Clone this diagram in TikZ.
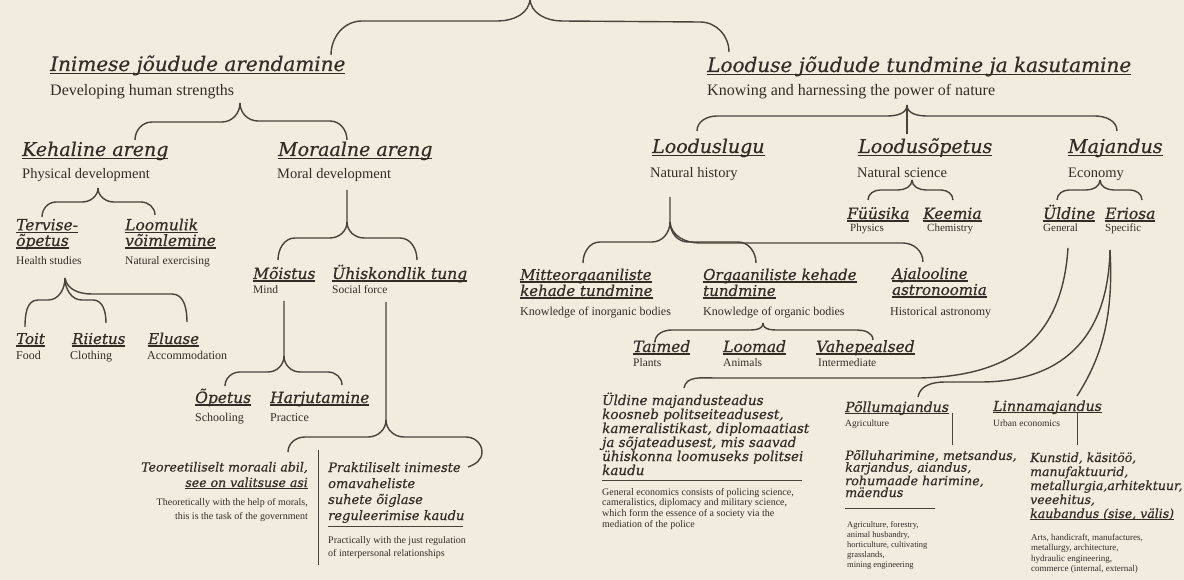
\documentclass[tikz,border=0pt]{standalone}
\usepackage{fontspec}
\setmainfont{Liberation Serif}
\newfontfamily\hdfont{DejaVu Serif}[ItalicFeatures={FakeBold=0.5}]
\usepackage{xcolor}
\usepackage{tikz}
\definecolor{paper}{HTML}{F2ECDF}
\definecolor{ink}{HTML}{332D28}
\definecolor{pen}{HTML}{4A423B}
\newcommand\uln[1]{\setbox0\hbox{#1}\rlap{\rule[-0.17em]{\wd0}{0.075em}}\box0}

\begin{document}
\begin{tikzpicture}[x=1pt,y=1pt,
	hd/.style 2 args={font=\hdfont\itshape\fontsize{#1}{#2}\selectfont},
	tr/.style 2 args={font=\fontsize{#1}{#2}\selectfont},
	every node/.style={inner sep=0pt,anchor=base west,text=ink,align=left},
	br/.style={draw=pen,line width=1.4pt},
	rl/.style={draw=pen,line width=1pt}]
	% 背景
	\useasboundingbox (0,0) rectangle (1184,-580);
	\fill[paper] (0,0) rectangle (1184,-580);
	% 第一层
	\node[hd={20}{22}] (inim) at (50,-71) {\uln{Inimese jõudude arendamine}};
	\node[tr={16}{18}] (inimE) at (50,-96) {Developing human strengths};
	\node[hd={20}{22}] (lood) at (707,-72) {\uln{Looduse jõudude tundmine ja kasutamine}};
	\node[tr={16}{18}] (loodE) at (707,-96) {Knowing and harnessing the power of nature};
	% 第二层
	\node[hd={19}{21}] (keh) at (22,-156) {\uln{Kehaline areng}};
	\node[tr={14.5}{16}] (kehE) at (22,-179) {Physical development};
	\node[hd={19}{21}] (mor) at (278,-156) {\uln{Moraalne areng}};
	\node[tr={14.5}{16}] (morE) at (277,-179) {Moral development};
	\node[hd={19}{21}] (lugu) at (652,-153) {\uln{Looduslugu}};
	\node[tr={14.5}{16}] (luguE) at (650,-178) {Natural history};
	\node[hd={19}{21}] (lope) at (858,-153) {\uln{Loodusõpetus}};
	\node[tr={14.5}{16}] (lopeE) at (857,-178) {Natural science};
	\node[hd={19}{21}] (maj) at (1068,-153) {\uln{Majandus}};
	\node[tr={14.5}{16}] (majE) at (1068,-178) {Economy};
	% 第三层 左
	\node[hd={15.5}{14.5}] (terv) at (16,-246) {\uln{Tervise-}\\\uln{õpetus}};
	\node[tr={11.5}{13}] (tervE) at (16,-265) {Health studies};
	\node[hd={15.5}{14.5}] (loom) at (125,-246) {\uln{Loomulik}\\\uln{võimlemine}};
	\node[tr={11.5}{13}] (loomE) at (125,-265) {Natural exercising};
	\node[hd={15}{16}] (toit) at (16,-344) {\uln{Toit}};
	\node[tr={12}{13}] (toitE) at (16,-359) {Food};
	\node[hd={15}{16}] (riie) at (72,-344) {\uln{Riietus}};
	\node[tr={12}{13}] (riieE) at (70,-359) {Clothing};
	\node[hd={15}{16}] (elu) at (148,-344) {\uln{Eluase}};
	\node[tr={12}{13}] (eluE) at (147,-359) {Accommodation};
	\node[hd={15.5}{16}] (mois) at (253,-279) {\uln{Mõistus}};
	\node[tr={11.5}{13}] (moisE) at (253,-294) {Mind};
	\node[hd={15.5}{16}] (yhis) at (332,-279) {\uln{Ühiskondlik tung}};
	\node[tr={11.5}{13}] (yhisE) at (332,-294) {Social force};
	\node[hd={15.5}{16}] (ope) at (195,-403) {\uln{Õpetus}};
	\node[tr={12}{13}] (opeE) at (195,-421) {Schooling};
	\node[hd={15.5}{16}] (harj) at (270,-403) {\uln{Harjutamine}};
	\node[tr={12}{13}] (harjE) at (270,-421) {Practice};
	% 第四层 左
	\node[hd={12.5}{15.5},anchor=base east,align=right] (teor) at (308,-487) {Teoreetiliselt moraali abil,\\\uln{see on valitsuse asi}};
	\node[tr={10}{14}] (teorE) at (308,-519) [anchor=base east,align=right] {Theoretically with the help of morals,\\this is the task of the government};
	\node[hd={13}{16}] (prak) at (328,-520) {Praktiliselt inimeste\\omavaheliste\\suhete õiglase\\reguleerimise kaudu};
	\node[tr={10}{13}] (prakE) at (328,-556) {Practically with the just regulation\\of interpersonal relationships};
	% 第三层 右
	\node[hd={15}{16}] (mitt) at (520,-296) {\uln{Mitteorgaaniliste}\\\uln{kehade tundmine}};
	\node[tr={12}{13}] (mittE) at (520,-316) {Knowledge of inorganic bodies};
	\node[hd={15}{16}] (org) at (703,-296) {\uln{Orgaaniliste kehade}\\\uln{tundmine}};
	\node[tr={12}{13}] (orgE) at (703,-316) {Knowledge of organic bodies};
	\node[hd={15}{16}] (aja) at (892,-295) {\uln{Ajalooline}\\\uln{astronoomia}};
	\node[tr={12}{13}] (ajaE) at (890,-316) {Historical astronomy};
	\node[hd={15.5}{16}] (fyys) at (847,-219) {\uln{Füüsika}};
	\node[tr={11}{12}] (fyysE) at (850,-232) {Physics};
	\node[hd={15.5}{16}] (keem) at (923,-219) {\uln{Keemia}};
	\node[tr={11}{12}] (keemE) at (927,-232) {Chemistry};
	\node[hd={15.5}{16}] (yld) at (1043,-219) {\uln{Üldine}};
	\node[tr={11}{12}] (yldE) at (1043,-232) {General};
	\node[hd={15.5}{16}] (eri) at (1105,-219) {\uln{Eriosa}};
	\node[tr={11}{12}] (eriE) at (1105,-232) {Specific};
	\node[hd={15.5}{16}] (taim) at (633,-352) {\uln{Taimed}};
	\node[tr={11.5}{12}] (taimE) at (633,-366) {Plants};
	\node[hd={15.5}{16}] (loomad) at (723,-352) {\uln{Loomad}};
	\node[tr={11.5}{12}] (loomadE) at (723,-366) {Animals};
	\node[hd={15.5}{16}] (vahe) at (816,-352) {\uln{Vahepealsed}};
	\node[tr={11.5}{12}] (vaheE) at (818,-366) {Intermediate};
	% 第四层 右
	\node[hd={13.5}{14}] (ymaj) at (602,-475) {Üldine majandusteadus\\koosneb politseiteadusest,\\kameralistikast, diplomaatiast\\ja sõjateadusest, mis saavad\\ühiskonna loomuseks politsei\\kaudu};
	\node[tr={10}{10.6}] (ymajE) at (602,-527) {General economics consists of policing science,\\cameralistics, diplomacy and military science,\\which form the essence of a society via the\\mediation of the police};
	\node[hd={14}{15}] (pold) at (845,-412) {\uln{Põllumajandus}};
	\node[tr={9.5}{10}] (poldE) at (845,-426) {Agriculture};
	\node[hd={12.7}{11.8}] (polh) at (845,-497) {Põlluharimine, metsandus,\\karjandus, aiandus,\\rohumaade harimine,\\mäendus};
	\node[tr={8.5}{10}] (polhE) at (847,-567) {Agriculture, forestry,\\animal husbandry,\\horticulture, cultivating\\grasslands,\\mining engineering};
	\node[hd={14}{15}] (linn) at (993,-411) {\uln{Linnamajandus}};
	\node[tr={9.5}{10}] (linnE) at (993,-426) {Urban economics};
	\node[hd={12.5}{14}] (kuns) at (1030,-518) {Kunstid, käsitöö,\\manufaktuurid,\\metallurgia,arhitektuur,\\veeehitus,\\\uln{kaubandus (sise, välis)}};
	\node[tr={9}{10.5}] (kunsE) at (1031,-571.5) {Arts, handicraft, manufactures,\\metallurgy, architecture,\\hydraulic engineering,\\commerce (internal, external)};
	% 括号的端点
	\coordinate (root) at (530,2);
	\coordinate (inimB) at (331,-55);
	\coordinate (loodB) at (729,-52);
	\coordinate (devB) at (240,-103);
	\coordinate (kehB) at (135,-140);
	\coordinate (morB) at (347,-140);
	\coordinate (physB) at (98,-188);
	\coordinate (tervB) at (42,-217);
	\coordinate (loomB) at (155,-215);
	\coordinate (healB) at (65,-278);
	\coordinate (toitB) at (25,-327);
	\coordinate (riieB) at (106,-323);
	\coordinate (eluB) at (187,-322);
	\coordinate (moralB) at (347,-190);
	\coordinate (moisB) at (278,-260);
	\coordinate (yhisB) at (417,-260);
	\coordinate (mindB) at (284,-301);
	\coordinate (opeB) at (225,-386);
	\coordinate (harjB) at (342,-385);
	\coordinate (socB) at (386,-302);
	\coordinate (teorB) at (288,-452);
	\coordinate (prakB) at (468,-467);
	\coordinate (knowB) at (907,-105);
	\coordinate (luguB) at (697,-131);
	\coordinate (lopeB) at (907,-134);
	\coordinate (majB) at (1117,-131);
	\coordinate (histB) at (670,-197);
	\coordinate (mittB) at (583,-263);
	\coordinate (orgB) at (756,-263);
	\coordinate (ajaB) at (923,-262);
	\coordinate (orgKB) at (763,-323);
	\coordinate (taimB) at (655,-342);
	\coordinate (vaheB) at (873,-340);
	\coordinate (sciB) at (912,-180);
	\coordinate (fyysB) at (868,-200);
	\coordinate (keemB) at (953,-200);
	\coordinate (ecoB) at (1100,-180);
	\coordinate (yldB) at (1057,-200);
	\coordinate (eriB) at (1142,-200);
	\coordinate (yldC) at (1068,-248);
	\coordinate (eriC) at (1110,-250);
	\coordinate (ymajB) at (684,-388);
	\coordinate (poldB) at (918,-397);
	\coordinate (linnB) at (1077,-396);
	% 括号
	\draw[br] (inimB) to[out=90,in=180] (362,-21) -- (498,-21) to[out=0,in=-90] (root);
	\draw[br] (root) to[out=-90,in=180] (562,-21) -- (700,-22) to[out=0,in=90] (loodB);
	\draw[br] (kehB) to[out=90,in=180] (152,-122) -- (222,-122) to[out=0,in=-90] (devB);
	\draw[br] (devB) to[out=-90,in=180] (258,-121) -- (330,-121) to[out=0,in=90] (morB);
	\draw[br] (tervB) to[out=90,in=180] (56,-202) -- (82,-202) to[out=0,in=-90] (physB);
	\draw[br] (physB) to[out=-90,in=180] (114,-202) -- (141,-202) to[out=0,in=90] (loomB);
	\draw[br] (toitB) to[out=90,in=180] (38,-300) -- (48,-300) to[out=0,in=-90] (healB);
	\draw[br] (healB) to[out=-90,in=180] (82,-300) -- (93,-300) to[out=0,in=90] (riieB);
	\draw[br] (healB) to[out=-80,in=180] (92,-294) -- (172,-294) to[out=0,in=90] (eluB);
	\draw[br] (moralB) -- (347,-222) to[out=-90,in=0] (330,-238) -- (295,-238) to[out=180,in=90] (moisB);
	\draw[br] (347,-222) to[out=-90,in=180] (364,-238) -- (400,-238) to[out=0,in=90] (yhisB);
	\draw[br] (mindB) -- (284,-356) to[out=-90,in=0] (268,-372) -- (240,-372) to[out=180,in=90] (opeB);
	\draw[br] (284,-356) to[out=-90,in=180] (300,-372) -- (328,-372) to[out=0,in=90] (harjB);
	\draw[br] (socB) -- (386,-420) to[out=-90,in=0] (368,-437) -- (305,-437) to[out=180,in=90] (teorB);
	\draw[br] (386,-420) to[out=-90,in=180] (404,-437) -- (466,-437) to[out=0,in=90] (482,-452) to[out=-90,in=20] (prakB);
	\draw[br] (luguB) to[out=90,in=180] (717,-116) -- (887,-116) to[out=0,in=-90] (knowB);
	\draw[br] (knowB) to[out=-90,in=180] (927,-116) -- (1095,-116) to[out=0,in=90] (majB);
	\draw[br] (knowB) -- (lopeB);
	\draw[br] (histB) -- (670,-222) to[out=-90,in=0] (652,-242) -- (600,-242) to[out=180,in=90] (mittB);
	\draw[br] (670,-222) to[out=-90,in=180] (688,-242) -- (738,-242) to[out=0,in=90] (orgB);
	\draw[br] (670,-222) to[out=-85,in=180] (700,-243) -- (903,-243) to[out=0,in=90] (ajaB);
	\draw[br] (taimB) to[out=90,in=180] (672,-330) -- (745,-330) to[out=0,in=-90] (orgKB);
	\draw[br] (orgKB) to[out=-90,in=180] (781,-330) -- (857,-330) to[out=0,in=90] (vaheB);
	\draw[br] (fyysB) to[out=90,in=180] (880,-190) -- (898,-190) to[out=0,in=-90] (sciB);
	\draw[br] (sciB) to[out=-90,in=180] (926,-190) -- (941,-190) to[out=0,in=90] (keemB);
	\draw[br] (yldB) to[out=90,in=180] (1069,-190) -- (1086,-190) to[out=0,in=-90] (ecoB);
	\draw[br] (ecoB) to[out=-90,in=180] (1114,-190) -- (1130,-190) to[out=0,in=90] (eriB);
	% 长曲线
	\draw[br] (yldC) .. controls (1062,-340) and (1010,-376) .. (920,-378) -- (715,-378) to[out=180,in=80] (ymajB);
	\draw[br] (eriC) .. controls (1108,-340) and (1060,-382) .. (980,-382) -- (945,-382) to[out=180,in=80] (poldB);
	\draw[br] (eriC) .. controls (1114,-320) and (1100,-360) .. (linnB);
	% 短线
	\draw[rl] (952,-413) -- (952,-445);
	\draw[rl] (1077,-413) -- (1077,-445);
	\draw[rl] (318,-450) -- (318,-565);
	\draw[rl] (328,-526) -- (463,-526);
	\draw[rl] (602,-480) -- (802,-480);
	\draw[rl] (845,-508) -- (935,-508);
\end{tikzpicture}
\end{document}
